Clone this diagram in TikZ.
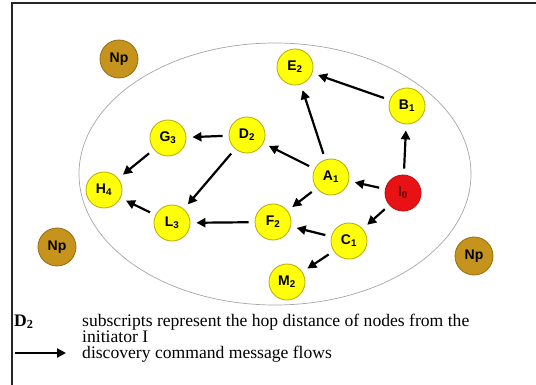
\documentclass[tikz,border=0pt]{standalone}
\usepackage{fontspec}
\setmainfont{Liberation Serif}
\setsansfont{Liberation Sans}
\usetikzlibrary{arrows.meta}
\usepackage{xcolor}
\definecolor{hopyellow}{RGB}{255,255,10}
\definecolor{hopedge}{RGB}{185,170,0}
\definecolor{initred}{RGB}{232,18,20}
\definecolor{npgold}{RGB}{198,148,28}
\definecolor{npedge}{RGB}{150,108,18}

\begin{document}
\begin{tikzpicture}[x=1pt, y=-1pt,
    hop/.style={circle, draw=hopedge, fill=hopyellow, line width=0.8pt, minimum size=36pt, inner sep=0pt,
        font=\sffamily\bfseries\fontsize{14}{14}\selectfont},
    initiator/.style={hop, draw=initred!80!black, fill=initred, text=red!40!black},
    outsider/.style={hop, draw=npedge, fill=npgold, minimum size=38pt},
    flow/.style={-{Triangle[length=9pt,width=9pt]}, line width=2.2pt, shorten >=6pt, shorten <=6pt},
    keytext/.style={anchor=base west, inner sep=0pt, font=\fontsize{17.6}{15}\selectfont}]
    \useasboundingbox (0,0) rectangle (536,385);
    % frame
    \draw[line width=2.2pt, black!85] (12,385) -- (12,3) -- (536,3);
    % network boundary
    \draw[gray!70, line width=0.7pt] (275,174) ellipse [x radius=196, y radius=131];
    % nodes with hop distance
    \foreach \n/\x/\y/\s in {E/295/67/2, B/407/106/1, G/168/138/3, D/247/135/2, A/331/177/1,
        H/104/190/4, L/172/223/3, F/273/222/2, C/349/241/1, M/287/282/2} {
        \node[hop] (\n) at (\x,\y) {\n\textsubscript{\s}};
    }
    \node[initiator] (I) at (403,193) {I\textsubscript{0}};
    % nodes outside the network
    \node[outsider] (np1) at (119,59) {Np};
    \node[outsider] (np2) at (57,247) {Np};
    \node[outsider] (np3) at (474,256) {Np};
    % discovery messages
    \foreach \a/\b in {I/B, B/E, I/A, I/C, A/E, A/D, A/F, C/F, C/M, D/G, D/L, G/H, L/H, F/L} {
        \draw[flow] (\a) -- (\b);
    }
    % legend
    \node[keytext, font=\fontsize{17.6}{15}\selectfont\bfseries] (keyd) at (14,326) {D\textsubscript{2}};
    \node[keytext] (keyline1) at (82,326) {subscripts represent the hop distance of nodes from the};
    \node[keytext] (keyline2) at (82,342) {initiator I};
    \coordinate (keya) at (15,353);
    \coordinate (keyb) at (66,353);
    \draw[flow, shorten >=0pt, shorten <=0pt] (keya) -- (keyb);
    \node[keytext] (keyflow) at (82,358) {discovery command message flows};
\end{tikzpicture}
\end{document}
